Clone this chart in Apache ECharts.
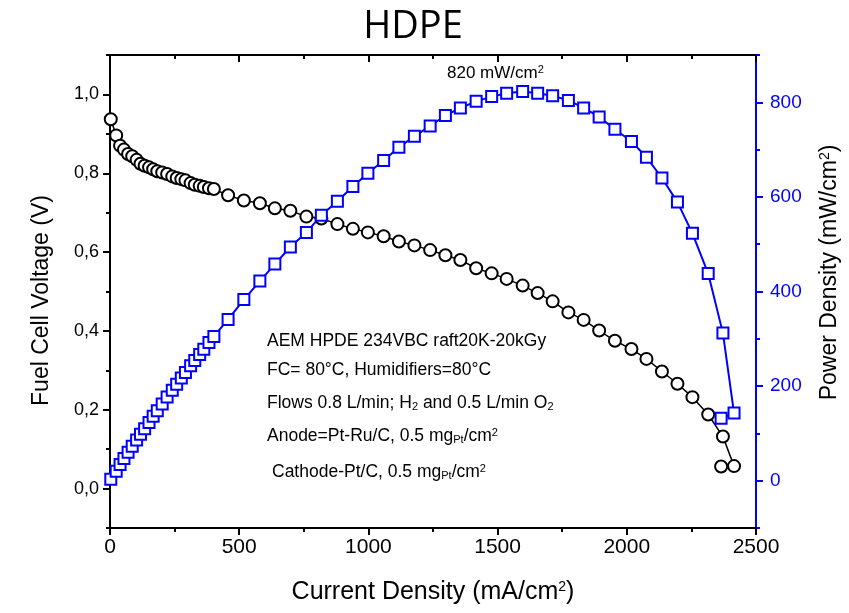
<!DOCTYPE html>
<html>
<head>
<meta charset="utf-8">
<script src="https://cdn.jsdelivr.net/npm/echarts@6/dist/echarts.min.js"></script>
<style>
  html, body { margin: 0; background: #fff; }
  #chart { width: 849px; height: 613px; }
</style>
</head>
<body>
<div id="chart"></div>
<script>
(function () {
  // values
  const currentDensity = [3, 24, 39, 54, 70, 86, 103, 118, 134, 151, 167, 183, 202, 221, 241, 258, 276, 292, 312, 328, 347, 363, 383, 402,
    457, 518, 580, 638, 698, 760, 818, 880, 940, 998, 1059, 1118, 1178, 1239, 1298, 1356, 1417, 1477, 1535, 1597, 1655, 1713,
    1774, 1833, 1893, 1954, 2018, 2076, 2136, 2196, 2254, 2315, 2372, 2415, 2365];
  const voltage = [0.937, 0.896, 0.870, 0.860, 0.849, 0.843, 0.834, 0.824, 0.819, 0.815, 0.810, 0.805, 0.802, 0.798, 0.792, 0.788,
    0.785, 0.782, 0.775, 0.771, 0.768, 0.765, 0.762, 0.760,
    0.744, 0.731, 0.724, 0.711, 0.705, 0.690, 0.685, 0.671, 0.659, 0.650, 0.640, 0.627, 0.617, 0.605, 0.592, 0.580, 0.559,
    0.546, 0.532, 0.515, 0.496, 0.475, 0.447, 0.428, 0.401, 0.375, 0.354, 0.329, 0.297, 0.266, 0.232, 0.188, 0.132, 0.057, 0.056];
  const powerDensity = [3, 20, 34, 47, 60, 73, 86, 98, 110, 123, 136, 148, 162, 177, 191, 204, 217, 229, 243, 254, 267, 278, 292, 305,
    341, 383, 422, 458, 494, 525, 561, 591, 622, 650, 677, 705, 728, 750, 772, 788, 802, 812, 819, 823, 819, 814, 804, 788,
    769, 743, 717, 684, 640, 589, 523, 438, 312, 143, 132];
  const voltageTicks = [0, 0.2, 0.4, 0.6, 0.8, 1.0];
  const powerTicks = [0, 200, 400, 600, 800];

  const BLUE = "#0000ff";
  const FONT = "'Liberation Sans', Arial, sans-serif";
  const chart = echarts.init(document.getElementById("chart"), null, { renderer: "canvas" });

  function noteText(x, y, text, size) {
    return {
      type: "text",
      x: x,
      y: y,
      style: {
        text: text,
        fontFamily: FONT,
        fontSize: size,
        fill: "#000",
        verticalAlign: "middle",
        rich: {
          sup: { fontSize: 11, fill: "#000", verticalAlign: "top", padding: [0, 0, 7, 0] },
          sub: { fontSize: 11, fill: "#000", verticalAlign: "bottom", padding: [7, 0, 0, 0] },
          n: { fontSize: size, fill: "#000" }
        }
      }
    };
  }

  const blackLine = { show: true, onZero: false, lineStyle: { color: "#000", width: 2 } };
  const blueLine = { show: true, onZero: false, lineStyle: { color: BLUE, width: 2 } };
  const supRich = { sup: { fontSize: 14, verticalAlign: "top", padding: [0, 0, 9, 0] } };

  chart.setOption({
    animation: false,
    grid: { left: 110, right: 92, top: 55, bottom: 85 },
    graphic: [
      {
        type: "text",
        x: 413,
        y: 27,
        style: { text: "HDPE", fontFamily: "'Open Sans', sans-serif", fontSize: 38, fill: "#000", align: "center", verticalAlign: "middle" }
      },
      noteText(447, 73, "{n|820 mW/cm}{sup|2}", 17),
      noteText(267, 341, "{n|AEM HPDE 234VBC raft20K-20kGy}", 17.5),
      noteText(267, 370, "{n|FC= 80°C, Humidifiers=80°C}", 17.5),
      noteText(267, 403, "{n|Flows 0.8 L/min; H}{sub|2}{n| and 0.5 L/min O}{sub|2}", 17.5),
      noteText(267, 436, "{n|Anode=Pt-Ru/C, 0.5 mg}{sub|Pt}{n|/cm}{sup|2}", 17.5),
      noteText(272, 472, "{n|Cathode-Pt/C, 0.5 mg}{sub|Pt}{n|/cm}{sup|2}", 17.5)
    ],
    xAxis: [
      {
        type: "value",
        position: "bottom",
        min: 0,
        max: 2500,
        interval: 500,
        name: "Current Density (mA/cm{sup|2})",
        nameLocation: "middle",
        nameGap: 52,
        nameTextStyle: { fontFamily: FONT, fontSize: 25, color: "#000", rich: supRich },
        axisLine: blackLine,
        axisTick: { show: true, length: 7, lineStyle: { color: "#000", width: 2 } },
        minorTick: { show: true, splitNumber: 2, length: 4, lineStyle: { color: "#000", width: 2 } },
        axisLabel: {
          color: "#000", fontFamily: FONT, fontSize: 21, margin: 9,
          formatter: function (v) { return String(v); }
        },
        splitLine: { show: false }
      },
      {
        type: "value",
        position: "top",
        min: 0,
        max: 2500,
        interval: 500,
        axisLine: blackLine,
        axisTick: { show: true, inside: true, length: 7, lineStyle: { color: "#000", width: 2 } },
        minorTick: { show: true, splitNumber: 2, length: 4, lineStyle: { color: "#000", width: 2 } },
        axisLabel: { show: false },
        splitLine: { show: false }
      }
    ],
    yAxis: [
      {
        type: "value",
        position: "left",
        min: -0.1,
        max: 1.1,
        name: "Fuel Cell Voltage (V)",
        nameLocation: "middle",
        nameRotate: 90,
        nameGap: 57,
        nameTextStyle: { fontFamily: FONT, fontSize: 23, color: "#000", padding: [0, 18, 0, 0] },
        axisLine: blackLine,
        axisTick: { show: true, length: 7, customValues: voltageTicks, lineStyle: { color: "#000", width: 2 } },
        axisLabel: {
          customValues: voltageTicks,
          color: "#000",
          fontFamily: FONT,
          fontSize: 18,
          margin: 11,
          formatter: function (v) { return v.toFixed(1).replace(".", ","); }
        },
        splitLine: { show: false }
      },
      {
        type: "value",
        position: "left",
        min: -0.1,
        max: 1.1,
        interval: 0.1,
        axisLine: { show: false, onZero: false },
        axisTick: { show: true, length: 4, lineStyle: { color: "#000", width: 2 } },
        axisLabel: { show: false },
        splitLine: { show: false }
      },
      {
        type: "value",
        position: "right",
        min: -100,
        max: 900,
        name: "Power Density (mW/cm{sup|2})",
        nameLocation: "middle",
        nameRotate: 90,
        nameGap: 62,
        nameTextStyle: { fontFamily: FONT, fontSize: 23, color: "#000", rich: supRich, padding: [0, 0, 0, 38] },
        axisLine: blueLine,
        axisTick: { show: true, length: 7, customValues: powerTicks, lineStyle: { color: BLUE, width: 2 } },
        axisLabel: { customValues: powerTicks, color: BLUE, fontFamily: FONT, fontSize: 19, margin: 14 },
        splitLine: { show: false }
      },
      {
        type: "value",
        position: "right",
        min: -100,
        max: 900,
        interval: 100,
        axisLine: { show: false, onZero: false },
        axisTick: { show: true, length: 4, lineStyle: { color: BLUE, width: 2 } },
        axisLabel: { show: false },
        splitLine: { show: false }
      }
    ],
    series: [
      {
        name: "Voltage",
        type: "line",
        xAxisIndex: 0,
        yAxisIndex: 0,
        data: currentDensity.map(function (c, i) { return [c, voltage[i]]; }),
        symbol: "emptyCircle",
        symbolSize: 12,
        itemStyle: { color: "#000", borderColor: "#000", borderWidth: 2 },
        lineStyle: { color: "#000", width: 1.5 }
      },
      {
        name: "Power",
        type: "line",
        xAxisIndex: 0,
        yAxisIndex: 2,
        data: currentDensity.map(function (c, i) { return [c, powerDensity[i]]; }),
        symbol: "emptyRect",
        symbolSize: 11,
        itemStyle: { color: BLUE, borderColor: BLUE, borderWidth: 2.5 },
        lineStyle: { color: BLUE, width: 2 }
      }
    ]
  });

  window.addEventListener("resize", function () { chart.resize(); });
})();
</script>
</body>
</html>
